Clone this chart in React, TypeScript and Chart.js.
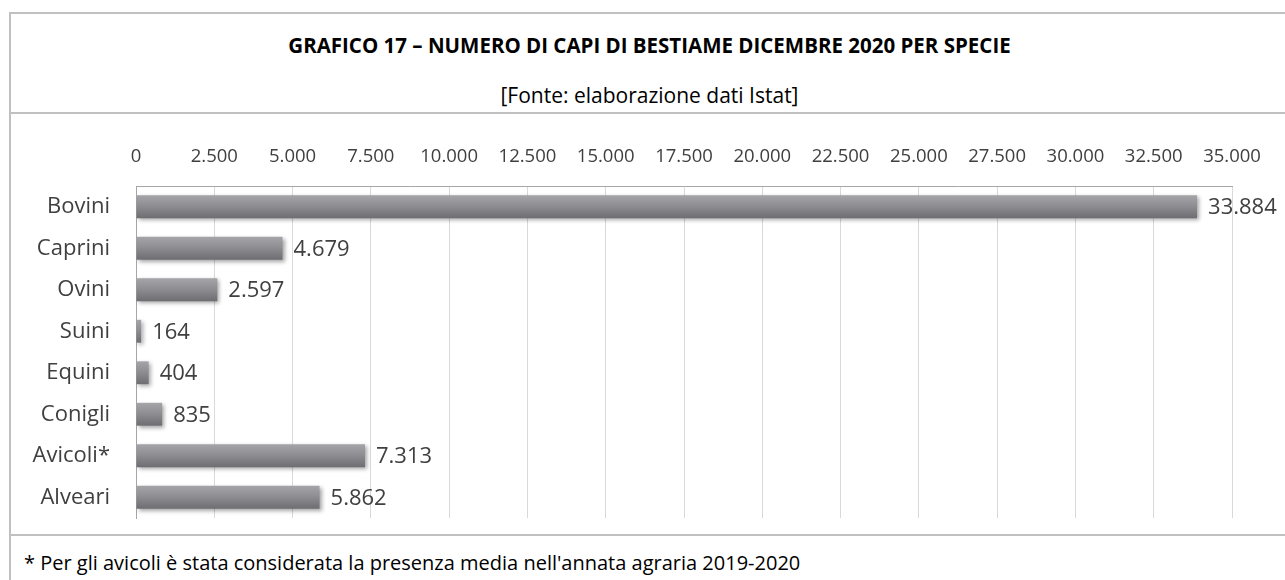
import React, { useEffect, useRef } from "react";
import { Chart, registerables } from "chart.js";

Chart.register(...registerables);

const categories = ["Bovini", "Caprini", "Ovini", "Suini", "Equini", "Conigli", "Avicoli*", "Alveari"];
const values = [33884, 4679, 2597, 164, 404, 835, 7313, 5862];
const xMin = 0;
const xMax = 35000;
const xStep = 2500;

const titleText = "GRAFICO 17 – NUMERO DI CAPI DI BESTIAME DICEMBRE 2020 PER SPECIE";
const subtitleText = "[Fonte: elaborazione dati Istat]";
const footnoteText = "* Per gli avicoli è stata considerata la presenza media nell'annata agraria 2019-2020";

const FONT = "'Open Sans', Lato, 'Liberation Sans', sans-serif";
const BAR_PCT = 0.55;

function fmt(n: number): string {
  const s = Math.round(n).toString();
  return s.replace(/\B(?=(\d{3})+(?!\d))/g, ".");
}

const shadowPlugin = {
  id: "barShadow",
  beforeDatasetsDraw(chart: any) {
    const ctx = chart.ctx;
    ctx.save();
    ctx.shadowColor = "rgba(0,0,0,0.35)";
    ctx.shadowBlur = 4;
    ctx.shadowOffsetX = 2;
    ctx.shadowOffsetY = 2;
  },
  afterDatasetsDraw(chart: any) {
    chart.ctx.restore();
  },
};

const valueLabelPlugin = {
  id: "valueLabels",
  afterDatasetsDraw(chart: any) {
    const ctx = chart.ctx;
    const meta = chart.getDatasetMeta(0);
    ctx.save();
    ctx.font = `22px ${FONT}`;
    ctx.fillStyle = "#404040";
    ctx.textAlign = "left";
    ctx.textBaseline = "middle";
    meta.data.forEach((el: any, i: number) => {
      const v = chart.data.datasets[0].data[i];
      ctx.fillText(fmt(v), el.x + 11, el.y + 1);
    });
    ctx.restore();
  },
};

export default function App() {
  const canvasRef = useRef<HTMLCanvasElement | null>(null);

  useEffect(() => {
    if (!canvasRef.current) return;
    const chart = new Chart(canvasRef.current, {
      type: "bar",
      data: {
        labels: categories,
        datasets: [
          {
            data: values,
            backgroundColor: (c: any) => {
              const ch = c.chart;
              const ys = ch.scales && ch.scales.y;
              if (!ys || c.dataIndex === undefined) return "#8d8d92";
              const center = ys.getPixelForValue(c.dataIndex);
              const band = (ys.bottom - ys.top) / categories.length;
              const half = (band * BAR_PCT) / 2;
              if (!isFinite(center) || !isFinite(half) || half <= 0) return "#8d8d92";
              const g = ch.ctx.createLinearGradient(0, center - half, 0, center + half);
              g.addColorStop(0, "#a4a4a9");
              g.addColorStop(0.45, "#8e8e93");
              g.addColorStop(1, "#6d6d72");
              return g;
            },
            borderWidth: 0,
            barPercentage: BAR_PCT,
            categoryPercentage: 1,
          },
        ],
      },
      options: {
        indexAxis: "y",
        animation: false,
        responsive: false,
        maintainAspectRatio: false,
        layout: { padding: { left: 0, right: 53, top: 0, bottom: 15 } },
        plugins: {
          legend: { display: false },
          tooltip: { enabled: false },
        },
        scales: {
          x: {
            position: "top",
            min: xMin,
            max: xMax,
            afterFit: (s: any) => {
              s.height = 72;
              s.paddingLeft = 0;
              s.paddingRight = 0;
              s.paddingTop = 0;
              s.paddingBottom = 0;
            },
            ticks: {
              stepSize: xStep,
              padding: 18,
              color: "#404040",
              font: { family: FONT, size: 18.5 },
              callback: (v: any) => fmt(Number(v)),
            },
            grid: { color: "#d9d9d9", lineWidth: 1, drawTicks: false },
            border: { display: true, color: "#a6a6a6", width: 1 },
          },
          y: {
            afterFit: (s: any) => {
              s.width = 136;
              s.paddingLeft = 0;
              s.paddingRight = 0;
              s.paddingTop = 0;
              s.paddingBottom = 0;
            },
            ticks: {
              padding: 26,
              color: "#404040",
              font: { family: FONT, size: 22 },
            },
            grid: { display: false, drawTicks: false },
            border: { display: true, color: "#a6a6a6", width: 1 },
          },
        },
      },
      plugins: [shadowPlugin, valueLabelPlugin],
    } as any);
    return () => chart.destroy();
  }, []);

  const line = "#c0c0c0";
  return (
    <div
      style={{
        position: "absolute",
        left: 0,
        top: 0,
        width: 1285,
        height: 580,
        background: "#ffffff",
        overflow: "hidden",
        fontFamily: FONT,
      }}
    >
      <div style={{ position: "absolute", left: 9, top: 12, width: 1290, height: 2, background: line }} />
      <div style={{ position: "absolute", left: 9, top: 12, width: 2, height: 600, background: line }} />
      <div style={{ position: "absolute", left: 9, top: 112, width: 1290, height: 2, background: line }} />
      <div style={{ position: "absolute", left: 9, top: 534, width: 1290, height: 2, background: line }} />
      <div
        style={{
          position: "absolute",
          left: 9,
          width: 1281,
          top: 31,
          height: 28,
          lineHeight: "28px",
          textAlign: "center",
          fontWeight: 700,
          fontSize: 20.5,
          color: "#000",
        }}
      >
        {titleText}
      </div>
      <div
        style={{
          position: "absolute",
          left: 9,
          width: 1281,
          top: 81,
          height: 28,
          lineHeight: "28px",
          textAlign: "center",
          fontSize: 21,
          color: "#000",
        }}
      >
        {subtitleText}
      </div>
      <div
        style={{
          position: "absolute",
          left: 24,
          top: 549,
          height: 28,
          lineHeight: "28px",
          fontSize: 20,
          color: "#000",
          whiteSpace: "nowrap",
        }}
      >
        {footnoteText}
      </div>
      <canvas
        ref={canvasRef}
        width={1285}
        height={419}
        style={{ position: "absolute", left: 0, top: 114, width: 1285, height: 419 }}
      />
    </div>
  );
}
